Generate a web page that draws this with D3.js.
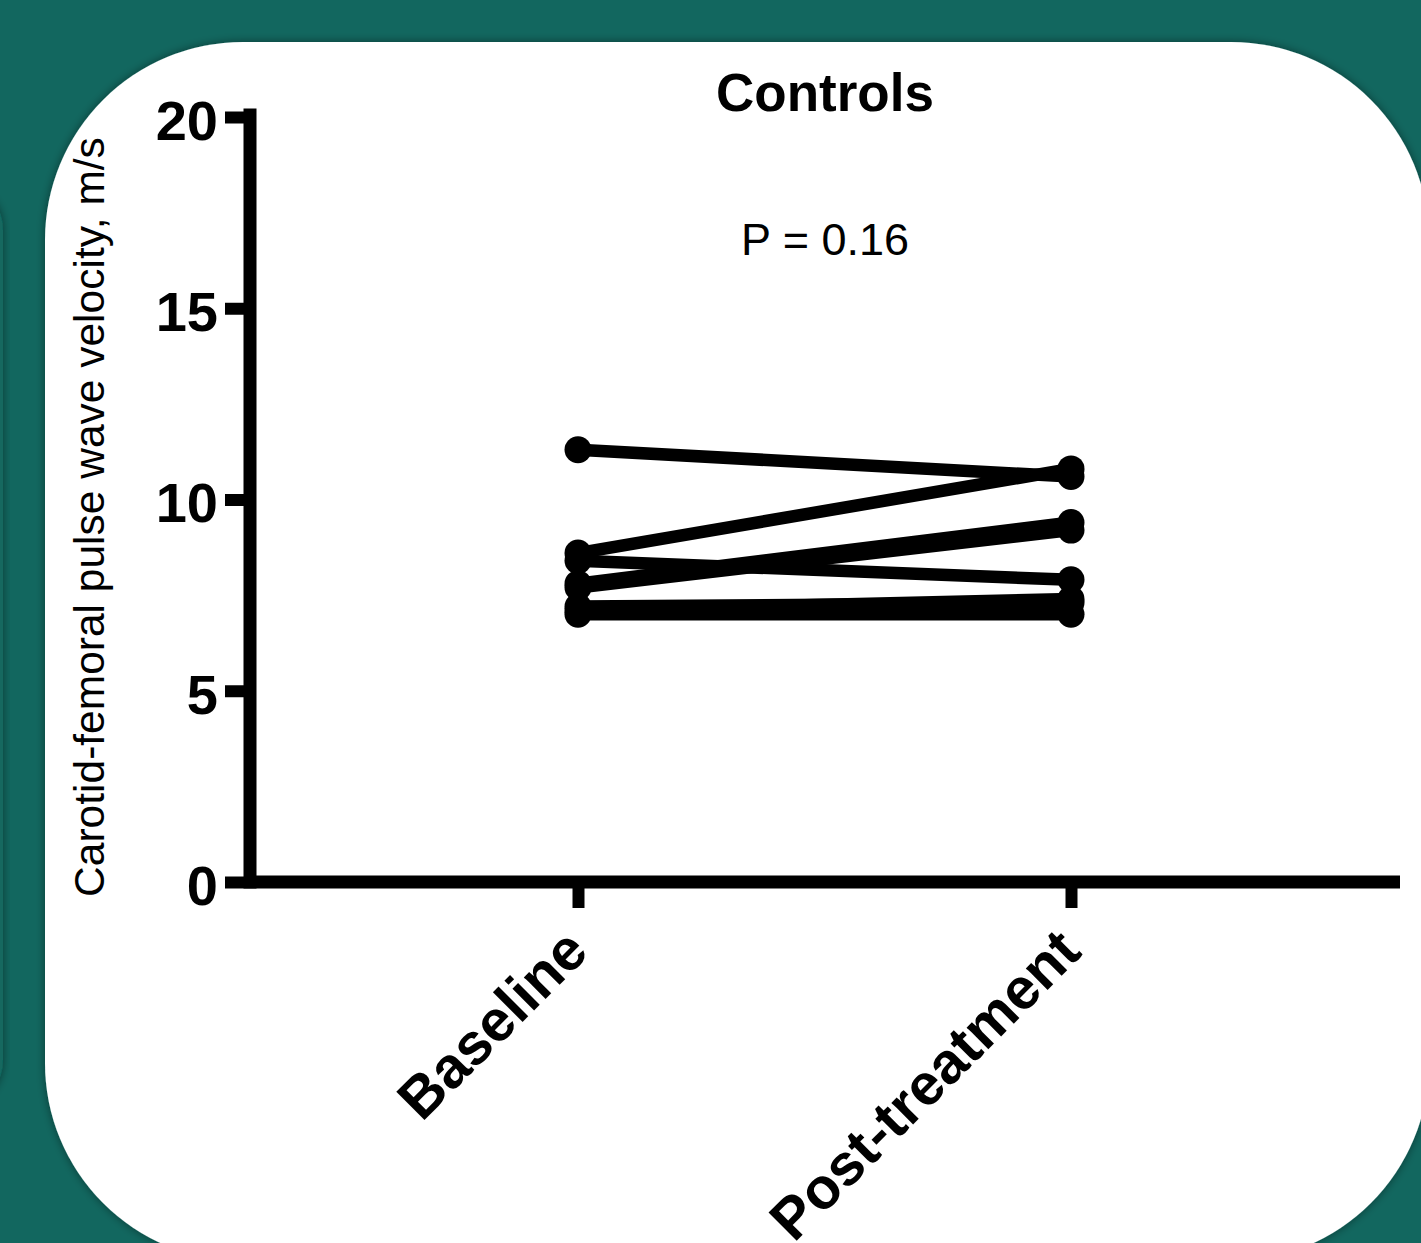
<!DOCTYPE html>
<html>
<head>
<meta charset="utf-8">
<script src="https://cdn.jsdelivr.net/npm/d3@7"></script>
<style>
  html, body { margin: 0; padding: 0; background: #12675f; overflow: hidden; }
  svg { display: block; }
</style>
</head>
<body>
<svg id="chart" width="1421" height="1243"></svg>
<script>
// ---- data ----
const categories = ["Baseline", "Post-treatment"];
const baselineValues = [11.3, 8.6, 8.4, 7.8, 7.7, 7.1, 7.0, 7.2];
const postValues     = [10.6, 10.8, 7.9, 9.4, 9.2, 7.4, 7.0, 7.3];
const yTicks = [0, 5, 10, 15, 20];
const titleText = "Controls";
const pText = "P = 0.16";
const yLabel = "Carotid-femoral pulse wave velocity, m/s";

// ---- setup ----
const W = 1421, H = 1243;
const svg = d3.select("#chart");
const FONT = "'Liberation Sans', Arial, Helvetica, sans-serif";

const defs = svg.append("defs");
const f = defs.append("filter").attr("id", "shadow")
  .attr("x", "-10%").attr("y", "-10%").attr("width", "120%").attr("height", "120%");
f.append("feDropShadow").attr("dx", 0).attr("dy", 0).attr("stdDeviation", 5)
  .attr("flood-color", "#000").attr("flood-opacity", 0.45);

// background
svg.append("rect").attr("width", W).attr("height", H).attr("fill", "#12675f");
// edge of neighbouring card on the far left
svg.append("rect").attr("x", -60).attr("y", 190).attr("width", 63).attr("height", 910)
  .attr("rx", 40).attr("fill", "#12675f").attr("filter", "url(#shadow)");
// white card
svg.append("rect").attr("x", 45).attr("y", 42).attr("width", 1384).attr("height", 1219)
  .attr("rx", 198).attr("ry", 198).attr("fill", "#fff").attr("filter", "url(#shadow)");

// scales
const y = d3.scaleLinear().domain([0, 20]).range([882, 117]);
const x = d3.scalePoint().domain(categories).range([578, 1071]);
const axisX0 = 250, axisXEnd = 1400;
const AX_W = 13;

const g = svg.append("g");

// y axis
const yAxis = g.append("g").attr("transform", `translate(${axisX0},0)`)
  .call(d3.axisLeft(y).tickValues(yTicks).tickSize(25).tickSizeOuter(0).tickPadding(7));
yAxis.select(".domain").attr("stroke", "#000").attr("stroke-width", AX_W)
  .attr("stroke-linecap", "square").attr("d", `M0,${y(0)}V${y(20) - 2}`);
yAxis.selectAll(".tick line").attr("stroke", "#000").attr("stroke-width", 12);
yAxis.selectAll(".tick text").attr("fill", "#000")
  .style("font-family", FONT).style("font-weight", "bold").style("font-size", "56px")
  .attr("dy", "0.4em");

// x axis
g.append("line").attr("x1", axisX0).attr("x2", axisXEnd)
  .attr("y1", y(0)).attr("y2", y(0))
  .attr("stroke", "#000").attr("stroke-width", AX_W);
const xAxis = g.append("g").attr("transform", `translate(0,${y(0)})`)
  .call(d3.axisBottom(x).tickSize(26).tickSizeOuter(0));
xAxis.select(".domain").remove();
xAxis.selectAll(".tick line").attr("stroke", "#000").attr("stroke-width", 12);
xAxis.selectAll(".tick text").remove();
xAxis.selectAll(".tick").append("text")
  .attr("transform", "translate(12,72) rotate(-45)")
  .attr("text-anchor", "end")
  .attr("fill", "#000")
  .style("font-family", FONT).style("font-weight", "bold").style("font-size", "58px")
  .text(d => d);

// paired lines
const pairs = baselineValues.map((b, i) => [b, postValues[i]]);
const lineGen = d3.line().x((d, i) => x(categories[i])).y(d => y(d));
g.append("g").selectAll("path").data(pairs).join("path")
  .attr("d", d => lineGen(d))
  .attr("fill", "none").attr("stroke", "#000").attr("stroke-width", 12.5);

// points
const pts = [];
pairs.forEach(p => p.forEach((v, i) => pts.push({ c: categories[i], v })));
g.append("g").selectAll("circle").data(pts).join("circle")
  .attr("cx", d => x(d.c)).attr("cy", d => y(d.v)).attr("r", 13.5).attr("fill", "#000");

// titles
svg.append("text").attr("x", 825).attr("y", 111).attr("text-anchor", "middle")
  .style("font-family", FONT).style("font-weight", "bold").style("font-size", "53px")
  .text(titleText);
svg.append("text").attr("x", 825).attr("y", 255).attr("text-anchor", "middle")
  .style("font-family", FONT).style("font-size", "45px")
  .text(pText);
svg.append("text").attr("transform", "translate(104,517) rotate(-90)")
  .attr("text-anchor", "middle")
  .style("font-family", FONT).style("font-size", "42.5px")
  .text(yLabel);
</script>
</body>
</html>
